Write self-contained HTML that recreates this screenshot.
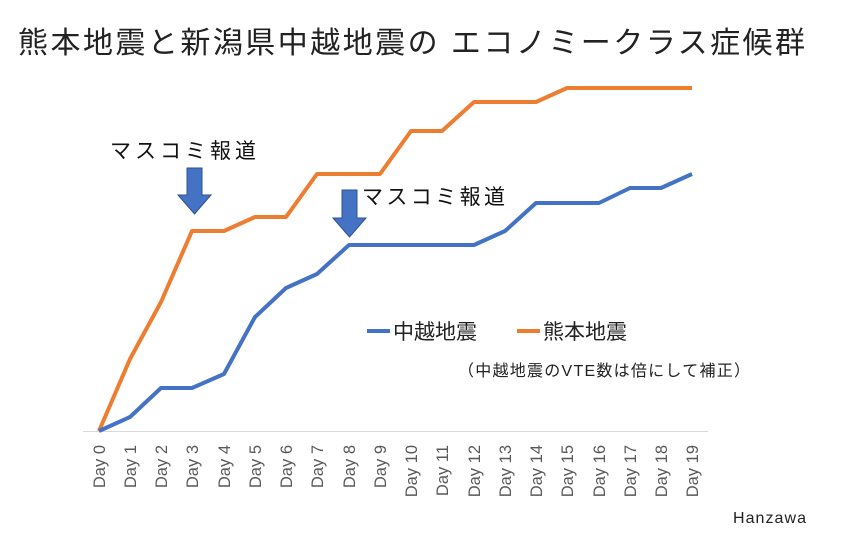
<!DOCTYPE html>
<html><head><meta charset="utf-8"><style>
body{margin:0;background:#fff;}
svg text{font-family:"Liberation Sans","Noto Sans CJK JP",sans-serif;}
</style></head><body>
<svg width="844" height="548" xmlns="http://www.w3.org/2000/svg">
<rect width="844" height="548" fill="#fff"/>
<text x="18" y="53" font-size="30" fill="#222" textLength="787" lengthAdjust="spacing">熊本地震と新潟県中越地震の エコノミークラス症候群</text>
<line x1="83" y1="431.5" x2="708" y2="431.5" stroke="#d9d9d9" stroke-width="1"/>
<g font-size="16.5" fill="#595959">
<text transform="translate(105,445) rotate(-90)" text-anchor="end">Day 0</text>
<text transform="translate(136,445) rotate(-90)" text-anchor="end">Day 1</text>
<text transform="translate(167,445) rotate(-90)" text-anchor="end">Day 2</text>
<text transform="translate(198,445) rotate(-90)" text-anchor="end">Day 3</text>
<text transform="translate(230,445) rotate(-90)" text-anchor="end">Day 4</text>
<text transform="translate(261,445) rotate(-90)" text-anchor="end">Day 5</text>
<text transform="translate(292,445) rotate(-90)" text-anchor="end">Day 6</text>
<text transform="translate(323,445) rotate(-90)" text-anchor="end">Day 7</text>
<text transform="translate(355,445) rotate(-90)" text-anchor="end">Day 8</text>
<text transform="translate(386,445) rotate(-90)" text-anchor="end">Day 9</text>
<text transform="translate(417,445) rotate(-90)" text-anchor="end">Day 10</text>
<text transform="translate(448,445) rotate(-90)" text-anchor="end">Day 11</text>
<text transform="translate(480,445) rotate(-90)" text-anchor="end">Day 12</text>
<text transform="translate(511,445) rotate(-90)" text-anchor="end">Day 13</text>
<text transform="translate(542,445) rotate(-90)" text-anchor="end">Day 14</text>
<text transform="translate(573,445) rotate(-90)" text-anchor="end">Day 15</text>
<text transform="translate(605,445) rotate(-90)" text-anchor="end">Day 16</text>
<text transform="translate(636,445) rotate(-90)" text-anchor="end">Day 17</text>
<text transform="translate(667,445) rotate(-90)" text-anchor="end">Day 18</text>
<text transform="translate(698,445) rotate(-90)" text-anchor="end">Day 19</text>
</g>
<polyline fill="none" stroke="#ed7d31" stroke-width="4" stroke-linejoin="round" points="99,431 130,359 161,302 192,231 224,231 255,217 286,217 317,174 349,174 380,174 411,131 442,131 474,102 505,102 536,102 567,88 599,88 630,88 661,88 692,88"/>
<polyline fill="none" stroke="#4472c4" stroke-width="4" stroke-linejoin="round" points="99,431 130,417 161,388 192,388 224,374 255,317 286,288 317,274 349,245 380,245 411,245 442,245 474,245 505,231 536,203 567,203 599,203 630,188 661,188 692,174"/>
<text x="110" y="158" font-size="21" fill="#111" textLength="146" lengthAdjust="spacing">マスコミ報道</text>
<text x="362" y="204" font-size="21" fill="#111" textLength="143" lengthAdjust="spacing">マスコミ報道</text>
<polygon points="187,168 202,168 202,195 211,195 194.5,214 178,195 187,195" fill="#4472c4" stroke="#2f528f" stroke-width="1"/>
<polygon points="342,190 357,190 357,218 366,218 349.5,237 333,218 342,218" fill="#4472c4" stroke="#2f528f" stroke-width="1"/>
<line x1="367" y1="331" x2="390" y2="331" stroke="#4472c4" stroke-width="4"/>
<text x="393" y="339" font-size="21" fill="#222">中越地震</text>
<line x1="517" y1="331" x2="540" y2="331" stroke="#ed7d31" stroke-width="4"/>
<text x="543" y="339" font-size="21" fill="#222">熊本地震</text>
<text x="458" y="376" font-size="16" fill="#222" textLength="292" lengthAdjust="spacing">（中越地震のVTE数は倍にして補正）</text>
<text x="733" y="523" font-size="16" fill="#222" textLength="73" lengthAdjust="spacing">Hanzawa</text>
</svg>
</body></html>
